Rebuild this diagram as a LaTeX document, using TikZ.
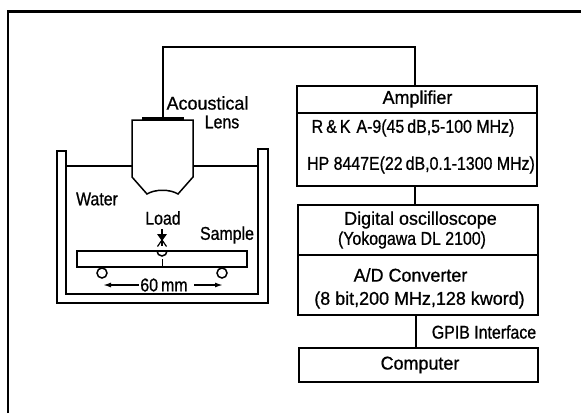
\documentclass[tikz,border=0pt]{standalone}
\usepackage{fontspec}
\setmainfont[FakeStretch=0.86,FakeBold=0.8]{Liberation Sans}
\newfontfamily\widefont[FakeStretch=0.97,FakeBold=0.8]{Liberation Sans}
\usetikzlibrary{arrows.meta}

\tikzset{
  blockbox/.style={draw,line width=1.8pt,minimum width=240pt,inner sep=0pt},
  rollerbox/.style={draw,circle,minimum size=10pt,inner sep=0pt,line width=1.5pt},
  lbl/.style={inner sep=0pt},
  widelbl/.style={inner sep=0pt,font=\fontsize{18.5}{20}\widefont}
}

\begin{document}
\begin{tikzpicture}[x=1pt,y=-1pt,line width=1.5pt,font=\fontsize{18.5}{20}\selectfont]

\useasboundingbox (0,0) rectangle (581,413);

% frame
\draw (8,413) -- (8,11);
\draw[line width=2.4pt] (7.3,11.5) -- (581,11.5);

% tank
\draw (66,166) -- (66,294) -- (258,294) -- (258,166)
  (66,166) -- (66,151) -- (57,151) -- (57,303) -- (268,303) -- (268,149) -- (258,149) -- (258,166);
\draw (66,166) -- (132,166) (193,166) -- (258,166);

% lens
\draw[fill=white] (132,120) -- (193,120) -- (193,177) -- (178,194)
  .. controls (170,189) and (155,189) .. (147,194) -- (132,177) -- cycle;
\draw[line width=3pt] (142,118.5) -- (184,118.5);
\coordinate (lenstop) at (163,118);

% sample
\draw (77,251) rectangle (247,267);
\draw[line width=1pt] (162,259) -- (162,267);
\node[rollerbox] (rollerL) at (102,273) {};
\node[rollerbox] (rollerR) at (222,273) {};
\draw (157,251) arc (180:0:5);

% load
\coordinate (loadtop) at (162,229);
\coordinate (loadend) at (162,246);
\draw (loadtop) -- (loadend);
\fill (157,234) -- (167,234) -- (162,241) -- cycle;
\draw[line width=1.2pt] (162,240) -- (157.5,246.5) (162,240) -- (166.5,246.5);

\node[widelbl] (lbacoustical) at (207.5,103) {Acoustical};
\node[lbl] (lblens) at (222,122) {Lens};
\node[lbl] (lbwater) at (97,199) {Water};
\node[lbl] (lbload) at (163,218) {Load};
\node[lbl] (lbsample) at (227,235) {Sample};

% span
\node[lbl] (span) at (164,285) {60\,mm};
\coordinate (spanL) at (103,285);
\coordinate (spanR) at (223,285);
\draw[-{Latex[length=8pt,width=5pt]}] (span.west) ++(-1,0) -- (spanL);
\draw[-{Latex[length=8pt,width=5pt]}] (span.east) ++(6,0) -- (spanR);

% blocks
\node[blockbox,minimum height=27pt] (amphead) at (417,99.5) {};
\node[widelbl] (amptitle) at (417.5,99) {Amplifier};
\node[blockbox,minimum height=73pt] (ampbody) at (417,149.5) {};
\node[lbl] (ampA) at (413,128) {R\,\&\,K\hspace{6pt}A-9(45\,dB,5-100 MHz)};
\node[lbl] (ampB) at (421,165) {HP 8447E(22\,dB,0.1-1300 MHz)};

\node[blockbox,minimum height=50pt] (scopehead) at (418,230) {};
\node[blockbox,minimum height=60pt] (adbody) at (418,285) {};
\node[widelbl] (scopeA) at (420.5,220) {Digital oscilloscope};
\node[lbl] (scopeB) at (412,240) {(Yokogawa DL 2100)};
\node[widelbl] (adA) at (410.5,275) {A/D Converter};
\node[widelbl] (adB) at (419.5,300) {(8 bit,200 MHz,128 kword)};

\node[lbl] (gpib) at (484,332) {GPIB Interface};
\node[blockbox,minimum height=34pt,minimum width=239pt] (computer) at (418.5,365) {};
\node[widelbl] (comptitle) at (420,365) {Computer};

% connectors
\coordinate (ampin) at (415,86);
\coordinate (wirecorner) at (415,47);
\draw (lenstop) |- (wirecorner) -- (ampin);
\coordinate (ampout) at (415,186);
\coordinate (scopein) at (415,205);
\draw (ampout) -- (scopein);
\coordinate (adout) at (416,315);
\coordinate (compin) at (416,348);
\draw (adout) -- (compin);

\end{tikzpicture}
\end{document}
